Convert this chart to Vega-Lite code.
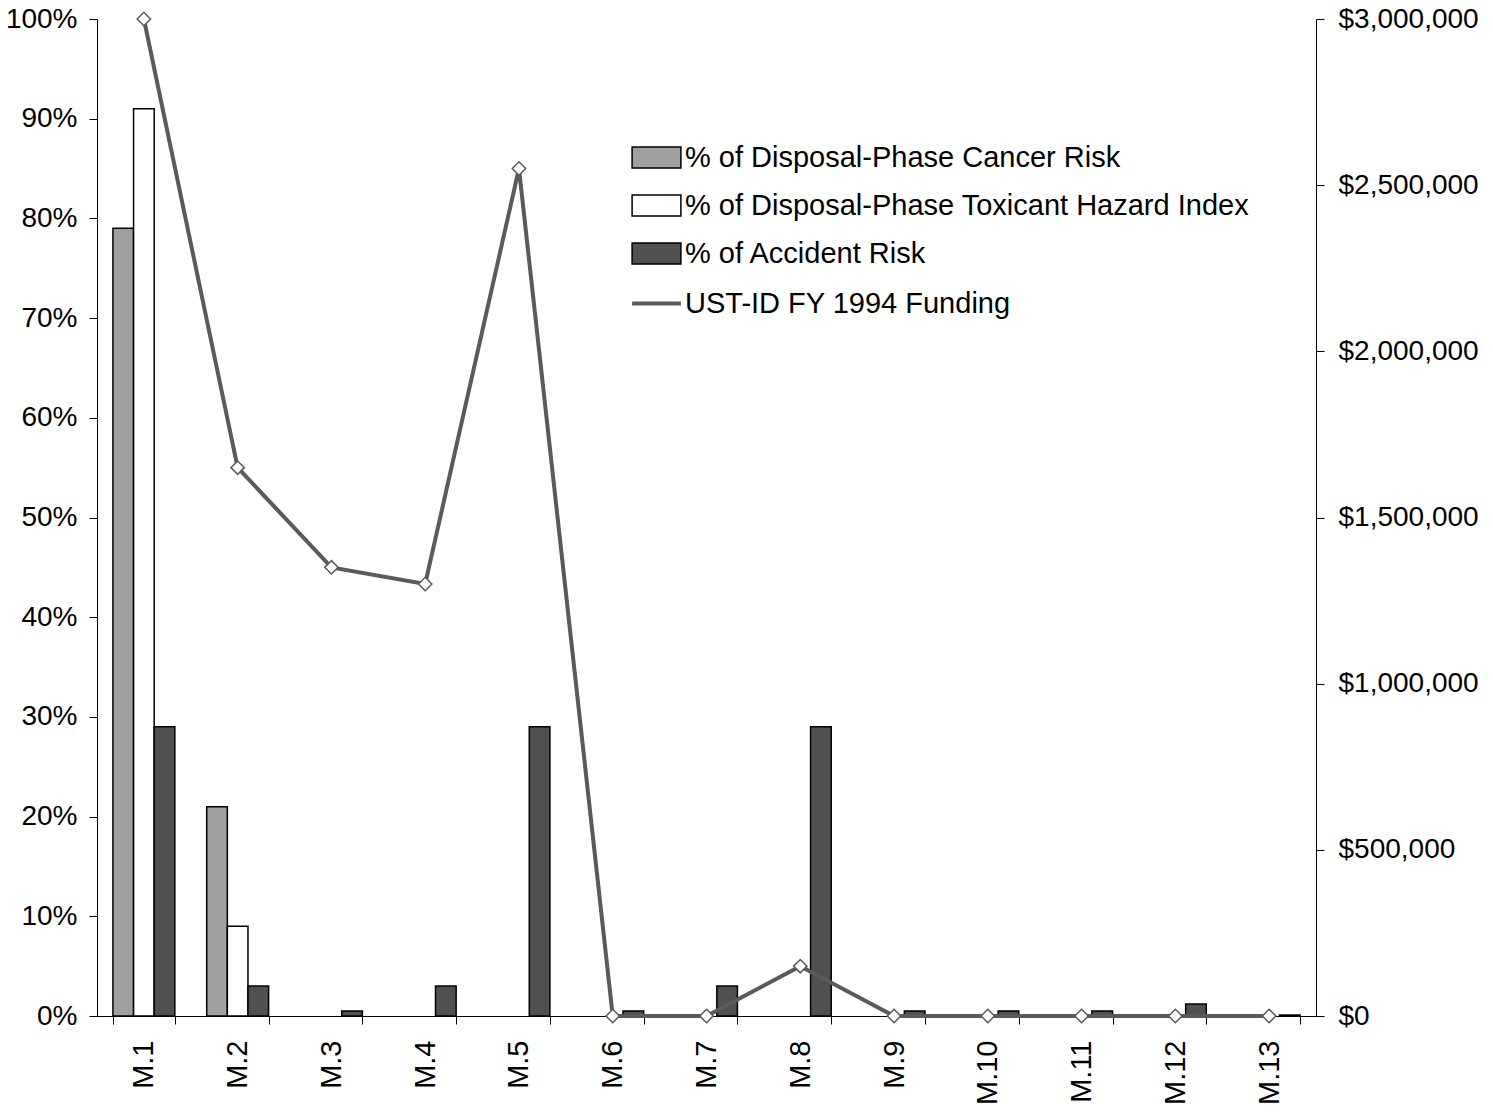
{
  "$schema": "https://vega.github.io/schema/vega-lite/v6.json",
  "autosize": {"type": "none"},
  "width": 1219,
  "height": 997,
  "padding": {"left": 97, "top": 19, "right": 177, "bottom": 99},
  "background": "white",
  "config": {
    "view": {"stroke": null},
    "font": "Liberation Sans",
    "axis": {"labelFont": "Liberation Sans", "labelColor": "black", "domainColor": "black", "tickColor": "black", "grid": false, "labelFontSize": 28}
  },
  "datasets": {
    "bars": [
      {"cat": "M.1", "series": "% of Disposal-Phase Cancer Risk", "value": 79},
      {"cat": "M.1", "series": "% of Disposal-Phase Toxicant Hazard Index", "value": 91},
      {"cat": "M.1", "series": "% of Accident Risk", "value": 29},
      {"cat": "M.2", "series": "% of Disposal-Phase Cancer Risk", "value": 21},
      {"cat": "M.2", "series": "% of Disposal-Phase Toxicant Hazard Index", "value": 9},
      {"cat": "M.2", "series": "% of Accident Risk", "value": 3},
      {"cat": "M.3", "series": "% of Accident Risk", "value": 0.5},
      {"cat": "M.4", "series": "% of Accident Risk", "value": 3},
      {"cat": "M.5", "series": "% of Accident Risk", "value": 29},
      {"cat": "M.6", "series": "% of Accident Risk", "value": 0.5},
      {"cat": "M.7", "series": "% of Accident Risk", "value": 3},
      {"cat": "M.8", "series": "% of Accident Risk", "value": 29},
      {"cat": "M.9", "series": "% of Accident Risk", "value": 0.5},
      {"cat": "M.10", "series": "% of Accident Risk", "value": 0.5},
      {"cat": "M.11", "series": "% of Accident Risk", "value": 0.5},
      {"cat": "M.12", "series": "% of Accident Risk", "value": 1.2},
      {"cat": "M.13", "series": "% of Accident Risk", "value": 0.1}
    ],
    "funding": [
      {"cat": "M.1", "series": "UST-ID FY 1994 Funding", "funding": 3000000},
      {"cat": "M.2", "series": "UST-ID FY 1994 Funding", "funding": 1650000},
      {"cat": "M.3", "series": "UST-ID FY 1994 Funding", "funding": 1350000},
      {"cat": "M.4", "series": "UST-ID FY 1994 Funding", "funding": 1300000},
      {"cat": "M.5", "series": "UST-ID FY 1994 Funding", "funding": 2550000},
      {"cat": "M.6", "series": "UST-ID FY 1994 Funding", "funding": 0},
      {"cat": "M.7", "series": "UST-ID FY 1994 Funding", "funding": 0},
      {"cat": "M.8", "series": "UST-ID FY 1994 Funding", "funding": 150000},
      {"cat": "M.9", "series": "UST-ID FY 1994 Funding", "funding": 0},
      {"cat": "M.10", "series": "UST-ID FY 1994 Funding", "funding": 0},
      {"cat": "M.11", "series": "UST-ID FY 1994 Funding", "funding": 0},
      {"cat": "M.12", "series": "UST-ID FY 1994 Funding", "funding": 0},
      {"cat": "M.13", "series": "UST-ID FY 1994 Funding", "funding": 0}
    ]
  },
  "encoding": {
    "x": {
      "field": "cat", "type": "nominal", "sort": ["M.1","M.2","M.3","M.4","M.5","M.6","M.7","M.8","M.9","M.10","M.11","M.12","M.13"],
      "scale": {"paddingInner": 0.34, "paddingOuter": 0.17},
      "axis": {"title": null, "labelAngle": -90, "labelAlign": "right", "labelBaseline": "middle", "labelPadding": 16, "tickBand": "extent", "tickSize": 8, "labelFontSize": 29}
    }
  },
  "layer": [
    {
      "data": {"name": "bars"},
      "mark": {"type": "bar", "stroke": "black", "strokeWidth": 1.5},
      "encoding": {
        "xOffset": {"field": "series", "type": "nominal", "sort": ["% of Disposal-Phase Cancer Risk", "% of Disposal-Phase Toxicant Hazard Index", "% of Accident Risk"]},
        "y": {
          "field": "value", "type": "quantitative",
          "scale": {"domain": [0, 100]},
          "axis": {"title": null, "values": [0,10,20,30,40,50,60,70,80,90,100], "labelExpr": "datum.value + '%'", "tickSize": 8, "labelPadding": 12}
        },
        "fill": {
          "field": "series", "type": "nominal",
          "sort": ["% of Disposal-Phase Cancer Risk", "% of Disposal-Phase Toxicant Hazard Index", "% of Accident Risk"],
          "scale": {"domain": ["% of Disposal-Phase Cancer Risk", "% of Disposal-Phase Toxicant Hazard Index", "% of Accident Risk"], "range": ["#a0a0a0", "#ffffff", "#505050"]},
          "legend": {
            "title": null, "orient": "none", "legendX": 545, "legendY": 124,
            "symbolType": "M-2.3,-1H2.3V1H-2.3Z", "symbolSize": 450, "symbolStrokeColor": "black", "symbolStrokeWidth": 1.5,
            "labelFontSize": 29, "labelFont": "Liberation Sans", "labelColor": "black", "rowPadding": 18, "labelLimit": 800, "labelOffset": 14
          }
        }
      }
    },
    {
      "data": {"name": "funding"},
      "mark": {"type": "line", "strokeWidth": 4, "point": {"shape": "diamond", "filled": true, "fill": "white", "stroke": "black", "strokeWidth": 1.5, "size": 180}},
      "encoding": {
        "y": {
          "field": "funding", "type": "quantitative",
          "scale": {"domain": [0, 3000000]},
          "axis": {"orient": "right", "title": null, "values": [0, 500000, 1000000, 1500000, 2000000, 2500000, 3000000], "format": "$,.0f", "tickSize": 8, "labelPadding": 14}
        },
        "stroke": {
          "field": "series", "type": "nominal",
          "scale": {"range": ["#5a5a5a"]},
          "legend": {
            "title": null, "orient": "none", "legendX": 545, "legendY": 270,
            "symbolType": "M-2.3,0H2.3", "symbolSize": 450, "symbolStrokeWidth": 4, "symbolFillColor": "transparent",
            "labelFontSize": 29, "labelFont": "Liberation Sans", "labelColor": "black", "labelLimit": 800, "labelOffset": 14
          }
        }
      }
    }
  ],
  "resolve": {"scale": {"y": "independent"}}
}
